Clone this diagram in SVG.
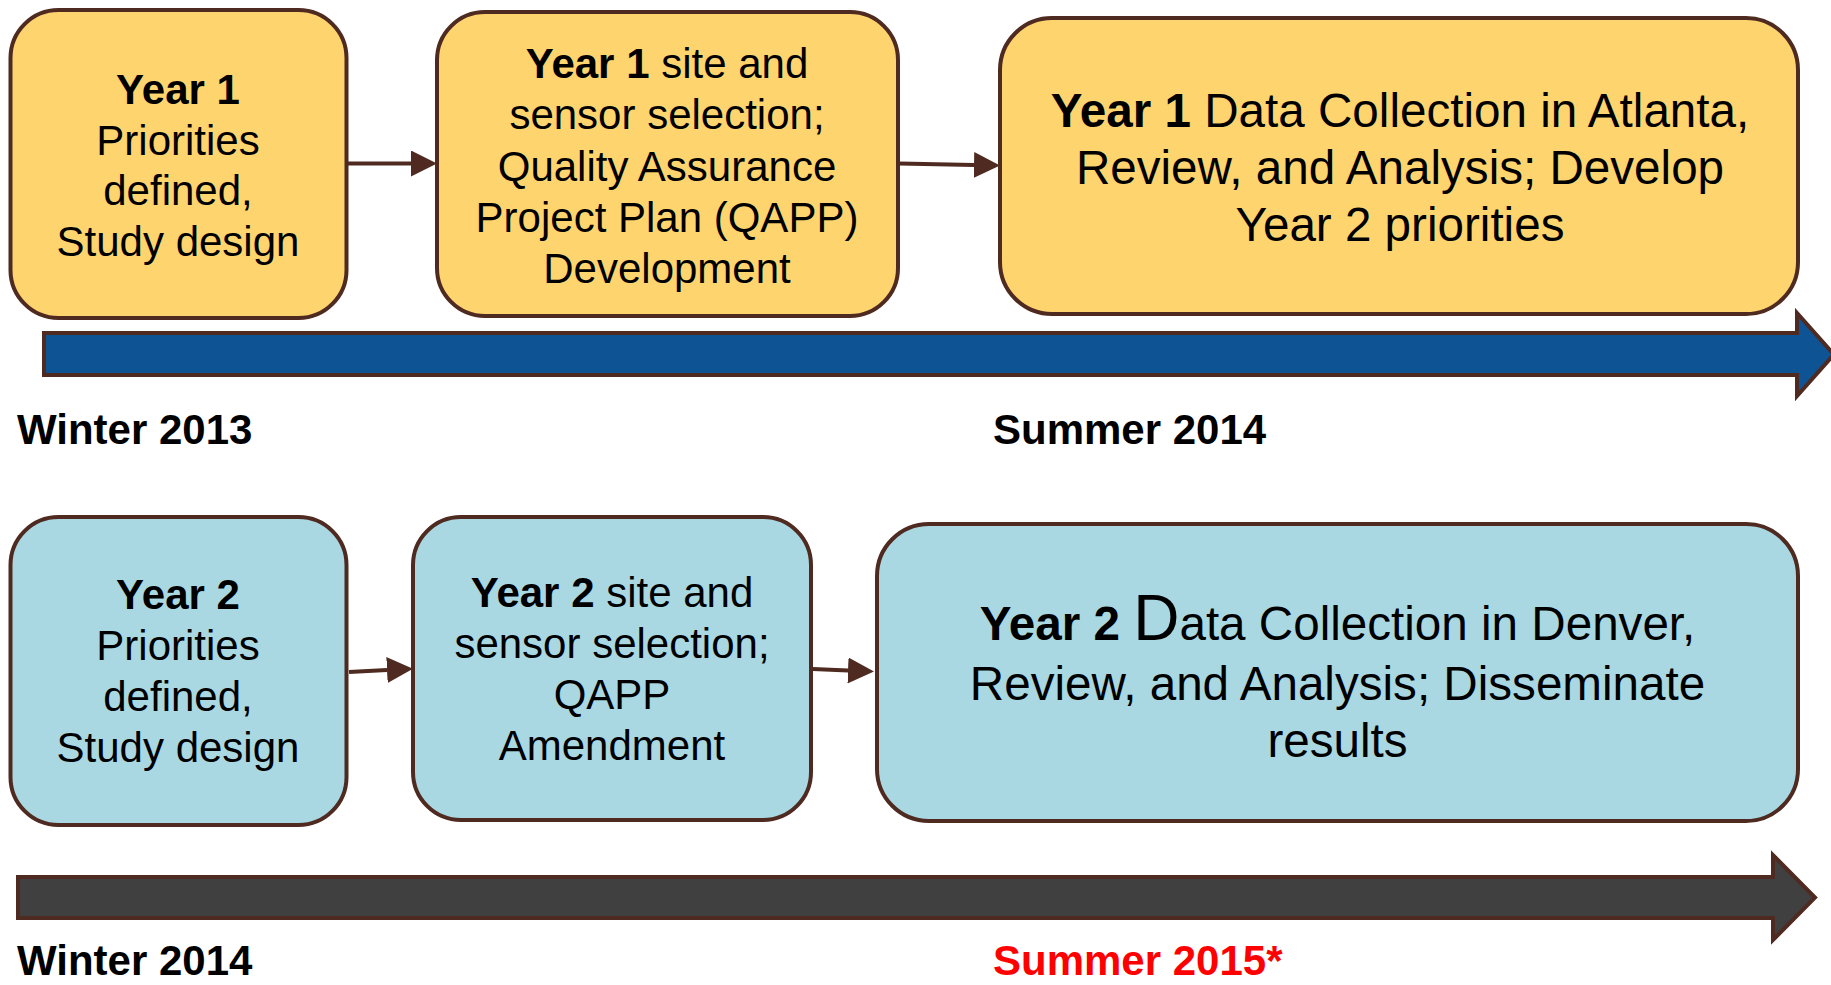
<svg xmlns="http://www.w3.org/2000/svg" width="1831" height="985" viewBox="0 0 1831 985">
<style>
.box{stroke:#4F2A20;stroke-width:4}
.y{fill:#FED46E}
.b{fill:#A9D8E3}
.t{font-family:"Liberation Sans",Arial,sans-serif;fill:#000;text-anchor:middle}
.s42{font-size:42px}
.s47{font-size:47.6px}
.bd{font-weight:bold}
.lbl{font-family:"Liberation Sans",Arial,sans-serif;font-weight:bold;font-size:42px}
.conn{stroke:#4F2A20;stroke-width:4;fill:none}
</style>
<defs>
<marker id="ah" viewBox="0 0 26 26" refX="0" refY="13" markerWidth="26" markerHeight="26" markerUnits="userSpaceOnUse" orient="auto">
<path d="M0,0 L26,13 L0,26 Z" fill="#4F2A20"/>
</marker>
</defs>
<rect width="1831" height="985" fill="#fff"/>

<g id="timeline1">
<polygon points="44,333 1797,333 1797,313 1834,354.5 1797,396 1797,375 44,375" fill="#0E5394" stroke="#4F2A20" stroke-width="4"/>
</g>
<g id="timeline2">
<polygon points="18,877 1773,877 1773,855 1815,897.5 1773,940 1773,918 18,918" fill="#404040" stroke="#4F2A20" stroke-width="4"/>
</g>

<g id="connectors">
<path class="conn" d="M348,163.5 L411,163.5" marker-end="url(#ah)"/>
<path class="conn" d="M899,163.5 L974,165" marker-end="url(#ah)"/>
<path class="conn" d="M349,672 L387,670" marker-end="url(#ah)"/>
<path class="conn" d="M813,669 L848,670.5" marker-end="url(#ah)"/>
</g>

<g id="n1">
<rect class="box y" x="10.5" y="10" width="336" height="308" rx="48"/>
<text class="t s42"><tspan x="178" y="104" class="bd">Year 1</tspan><tspan x="178" y="155">Priorities</tspan><tspan x="178" y="205">defined,</tspan><tspan x="178" y="256">Study design</tspan></text>
</g>

<g id="n2">
<rect class="box y" x="437" y="12" width="461" height="304" rx="48"/>
<text class="t s42"><tspan x="667" y="78"><tspan class="bd">Year 1</tspan> site and</tspan><tspan x="667" y="129">sensor selection;</tspan><tspan x="667" y="181">Quality Assurance</tspan><tspan x="667" y="232">Project Plan (QAPP)</tspan><tspan x="667" y="283">Development</tspan></text>
</g>

<g id="n3">
<rect class="box y" x="1000" y="18" width="798" height="296" rx="52"/>
<text class="t s47"><tspan x="1400" y="127"><tspan class="bd">Year 1</tspan> Data Collection in Atlanta,</tspan><tspan x="1400" y="184">Review, and Analysis; Develop</tspan><tspan x="1400" y="241">Year 2 priorities</tspan></text>
</g>

<g id="n4">
<rect class="box b" x="10.5" y="517" width="336" height="308" rx="48"/>
<text class="t s42"><tspan x="178" y="609" class="bd">Year 2</tspan><tspan x="178" y="660">Priorities</tspan><tspan x="178" y="711">defined,</tspan><tspan x="178" y="762">Study design</tspan></text>
</g>

<g id="n5">
<rect class="box b" x="413" y="517" width="398" height="303" rx="48"/>
<text class="t s42"><tspan x="612" y="607"><tspan class="bd">Year 2</tspan> site and</tspan><tspan x="612" y="658">sensor selection;</tspan><tspan x="612" y="709">QAPP</tspan><tspan x="612" y="760">Amendment</tspan></text>
</g>

<g id="n6">
<rect class="box b" x="877" y="524" width="921" height="297" rx="52"/>
<text class="t s47"><tspan x="1337.5" y="640"><tspan class="bd">Year 2</tspan> <tspan style="font-size:64px">D</tspan>ata Collection in Denver,</tspan><tspan x="1337.5" y="700">Review, and Analysis; Disseminate</tspan><tspan x="1337.5" y="757">results</tspan></text>
</g>

<g id="labels">
<text class="lbl" x="17" y="444">Winter 2013</text>
<text class="lbl" x="993" y="444">Summer 2014</text>
<text class="lbl" x="17" y="975">Winter 2014</text>
<text class="lbl" x="993" y="975" fill="#FF0000">Summer 2015*</text>
</g>
</svg>
